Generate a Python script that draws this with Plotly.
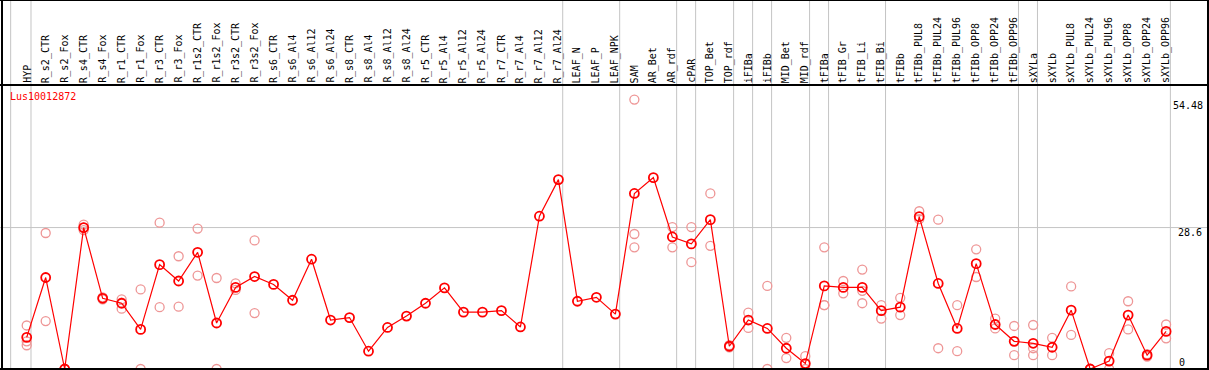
import plotly.graph_objects as go

categories = ["HYP", "R_s2_CTR", "R_s2_Fox", "R_s4_CTR", "R_s4_Fox", "R_r1_CTR", "R_r1_Fox",
              "R_r3_CTR", "R_r3_Fox", "R_r1s2_CTR", "R_r1s2_Fox", "R_r3s2_CTR", "R_r3s2_Fox",
              "R_s6_CTR", "R_s6_Al4", "R_s6_Al12", "R_s6_Al24", "R_s8_CTR", "R_s8_Al4",
              "R_s8_Al12", "R_s8_Al24", "R_r5_CTR", "R_r5_Al4", "R_r5_Al12", "R_r5_Al24",
              "R_r7_CTR", "R_r7_Al4", "R_r7_Al12", "R_r7_Al24", "LEAF_N", "LEAF_P", "LEAF_NPK",
              "SAM", "AR_Bet", "AR_rdf", "cPAR", "TOP_Bet", "TOP_rdf", "iFIBa", "iFIBb",
              "MID_Bet", "MID_rdf", "tFIBa", "tFIB_Gr", "tFIB_Li", "tFIB_Bi", "tFIBb",
              "tFIBb_PUL8", "tFIBb_PUL24", "tFIBb_PUL96", "tFIBb_OPP8", "tFIBb_OPP24",
              "tFIBb_OPP96", "sXYLa", "sXYLb", "sXYLb_PUL8", "sXYLb_PUL24", "sXYLb_PUL96",
              "sXYLb_OPP8", "sXYLb_OPP24", "sXYLb_OPP96"]

means = [6.4, 18.5, 0, 28.6, 14.3, 13.3, 8.0, 21.1, 17.8, 23.6, 9.3, 16.5, 18.7,
         17.1, 13.9, 22.2, 9.9, 10.4, 3.6, 8.4, 10.7, 13.3, 16.4, 11.5, 11.5,
         11.8, 8.5, 30.9, 38.3, 13.7, 14.5, 11.1,
         35.5, 38.7, 26.7, 25.3, 30.2, 4.6, 9.9, 8.2, 4.2, 1.1,
         16.8, 16.5, 16.5, 11.8, 12.5, 30.8, 17.3, 8.2, 21.3, 9.0, 5.6,
         5.2, 4.4, 11.9, 0, 1.6, 10.9, 2.8, 7.6]

replicates = [
    [8.8, 5.6, 4.8], [27.5, 9.7], [0, 0], [29.2, 28.6, 28.1], [14.5, 14.1],
    [14.1, 13.4, 12.2], [16.1, 0], [29.6, 12.5], [22.8, 12.6], [28.4, 18.9],
    [18.4, 0], [17.3, 16.0], [26.0, 11.3],
    [], [], [], [], [], [], [], [], [], [], [], [], [], [], [], [], [], [], [],
    [54.48, 27.3, 24.6], [], [28.7, 24.6], [28.7, 21.6], [35.5, 24.9], [4.8, 4.4],
    [11.4, 8.3], [16.8, 0], [6.3, 2.2], [2.6, 0],
    [24.6, 12.9, 12.9], [17.8, 15.3], [20.1, 15.8, 13.3], [12.9, 10.2], [14.4, 10.9],
    [31.9, 30.3], [30.2, 4.2], [12.9, 3.6], [24.2, 18.6], [10.2, 8.2], [8.7, 2.8],
    [8.9, 4.2, 2.8], [6.3, 2.8], [16.7, 6.9], [0, 0], [3.2, 0], [13.7, 8.0],
    [3.0, 2.5], [9.0, 6.2],
]

group_breaks = [-1.07, 0, 28, 31, 34, 35, 37, 38, 39, 41, 42, 45, 52, 53, 60]
gene_id = "Lus10012872"
axis_labels = [(54.48, "54.48"), (28.6, "28.6"), (0, "0")]

assert len(categories) == len(means) == len(replicates)

W, H = 1209, 370
idx = list(range(len(categories)))

rx, ry = [], []
for i, reps in enumerate(replicates):
    for v in reps:
        rx.append(i)
        ry.append(v)

fig = go.Figure()
fig.add_trace(go.Scatter(x=rx, y=ry, mode="markers",
                         marker=dict(symbol="circle-open", size=9, color="#ee9696",
                                     line=dict(width=1.3, color="#ee9696")),
                         hoverinfo="skip"))
fig.add_trace(go.Scatter(x=idx, y=means, mode="lines+markers",
                         line=dict(color="#ff0000", width=1.2),
                         marker=dict(symbol="circle-open", size=9, color="#ff0000",
                                     line=dict(width=1.8, color="#ff0000"))))


def px_x(p):
    return p / W


def px_y(p):
    return 1 - p / H


k = 4.945
y0px = 369
top_px = 85
yr = [(y0px - H) / k, (y0px - top_px) / k]
xs = 18.99
x0px = 26.7
xr = [-x0px / xs, -x0px / xs + W / xs]

shapes = []
for b in group_breaks:
    shapes.append(dict(type="line", xref="x", yref="paper", x0=b + 0.226, x1=b + 0.226,
                       y0=0, y1=1, line=dict(color="#c4c4c4", width=1), layer="below"))
shapes.append(dict(type="line", xref="paper", yref="y", x0=0, x1=1, y0=28.6, y1=28.6,
                   line=dict(color="#c4c4c4", width=1), layer="below"))
black = dict(color="black", width=2)
shapes += [
    dict(type="line", xref="paper", yref="paper", x0=0, x1=1, y0=px_y(0.5), y1=px_y(0.5), line=dict(color="black", width=1)),
    dict(type="line", xref="paper", yref="paper", x0=0, x1=1, y0=px_y(85), y1=px_y(85), line=black),
    dict(type="line", xref="paper", yref="paper", x0=0, x1=1, y0=px_y(369), y1=px_y(369), line=black),
    dict(type="line", xref="paper", yref="paper", x0=px_x(2), x1=px_x(2), y0=0, y1=1, line=black),
    dict(type="line", xref="paper", yref="paper", x0=px_x(1208), x1=px_x(1208), y0=0, y1=1, line=black),
]

font = "DejaVu Sans Mono"
annotations = []
for i, c in enumerate(categories):
    annotations.append(dict(x=i, xref="x", y=px_y(84), yref="paper", text=c, textangle=-90,
                            showarrow=False, xanchor="center", yanchor="bottom",
                            font=dict(family=font, size=10, color="black"), borderpad=0))
annotations.append(dict(x=px_x(9), xref="paper", y=px_y(96), yref="paper", text=gene_id,
                        showarrow=False, xanchor="left", yanchor="middle",
                        font=dict(family=font, size=10, color="#ff0000"), borderpad=0))
label_pos = {"54.48": (1172, 106), "28.6": (1177, 232), "0": (1178, 362)}
for v, t in axis_labels:
    lx, ly = label_pos[t]
    annotations.append(dict(x=px_x(lx), xref="paper", y=px_y(ly), yref="paper", text=t,
                            showarrow=False, xanchor="left", yanchor="middle",
                            font=dict(family=font, size=10, color="black"), borderpad=0))

fig.update_layout(
    width=W, height=H, margin=dict(l=0, r=0, t=0, b=0),
    paper_bgcolor="white", plot_bgcolor="white", showlegend=False,
    xaxis=dict(range=xr, visible=False, domain=[0, 1]),
    yaxis=dict(range=yr, visible=False, domain=[0, (H - top_px) / H]),
    shapes=shapes, annotations=annotations,
)

fig.write_html("out.html", config={"displayModeBar": False},
               post_script="document.body.style.margin='0';document.body.style.overflow='hidden';")
